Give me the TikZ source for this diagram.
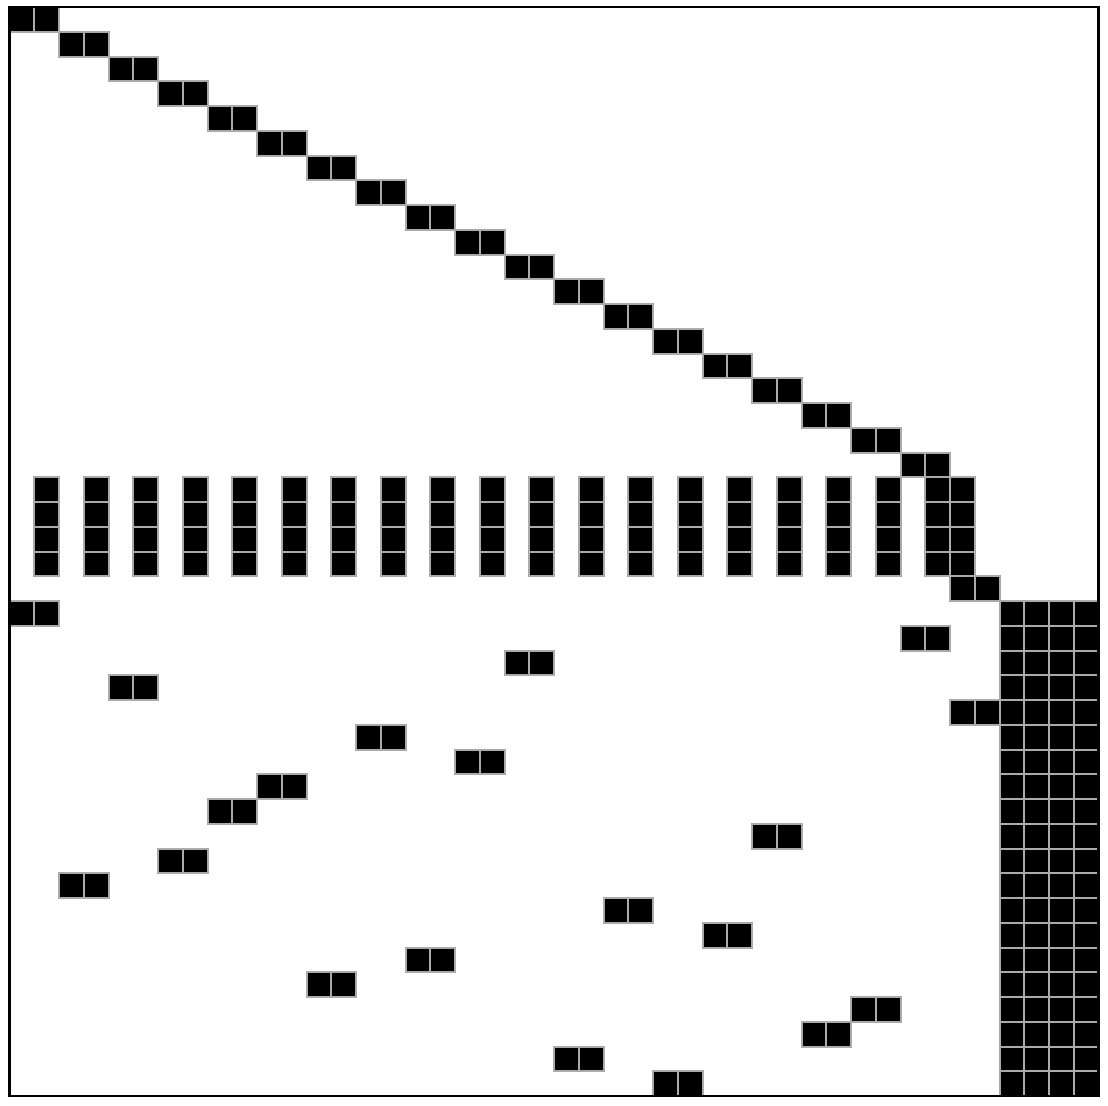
\documentclass[tikz,border=0pt]{standalone}
\definecolor{cellgray}{RGB}{170,170,170}
\begin{document}
\begin{tikzpicture}[x=0.5pt,y=-0.5pt,
  cellst/.style={fill=black,draw=cellgray,line width=1pt},
  framest/.style={draw=black,line width=1.3pt}]
\useasboundingbox (0,0) rectangle (1108,1105);
\def\cs{24.75}
\def\ox{9.5}
\def\oy{7}
% diagonal blocks rows 0-18
\foreach \r in {0,...,18}{
  \foreach \d in {0,1}{
    \draw[cellst] ({\ox+\cs*(2*\r+\d)},{\oy+\cs*\r}) rectangle ++(\cs,\cs);
  }
}
% rows 19-22
\foreach \r in {19,...,22}{
  \foreach \c in {1,3,...,35,37,38}{
    \draw[cellst] ({\ox+\cs*\c},{\oy+\cs*\r}) rectangle ++(\cs,\cs);
  }
}
% row 23
\foreach \c in {38,39}{
  \draw[cellst] ({\ox+\cs*\c},{\oy+\cs*23}) rectangle ++(\cs,\cs);
}
% rows 24-43
\foreach \s [count=\i from 24] in {0,36,20,4,38,14,18,10,8,30,6,2,24,28,16,12,34,32,22,26}{
  \foreach \d in {0,1}{
    \pgfmathtruncatemacro\cc{\s+\d}
    \draw[cellst] ({\ox+\cs*\cc},{\oy+\cs*\i}) rectangle ++(\cs,\cs);
  }
  \foreach \c in {40,...,43}{
    \draw[cellst] ({\ox+\cs*\c},{\oy+\cs*\i}) rectangle ++(\cs,\cs);
  }
}
\draw[framest] (\ox,\oy) rectangle ({\ox+\cs*44},{\oy+\cs*44});
\end{tikzpicture}
\end{document}
